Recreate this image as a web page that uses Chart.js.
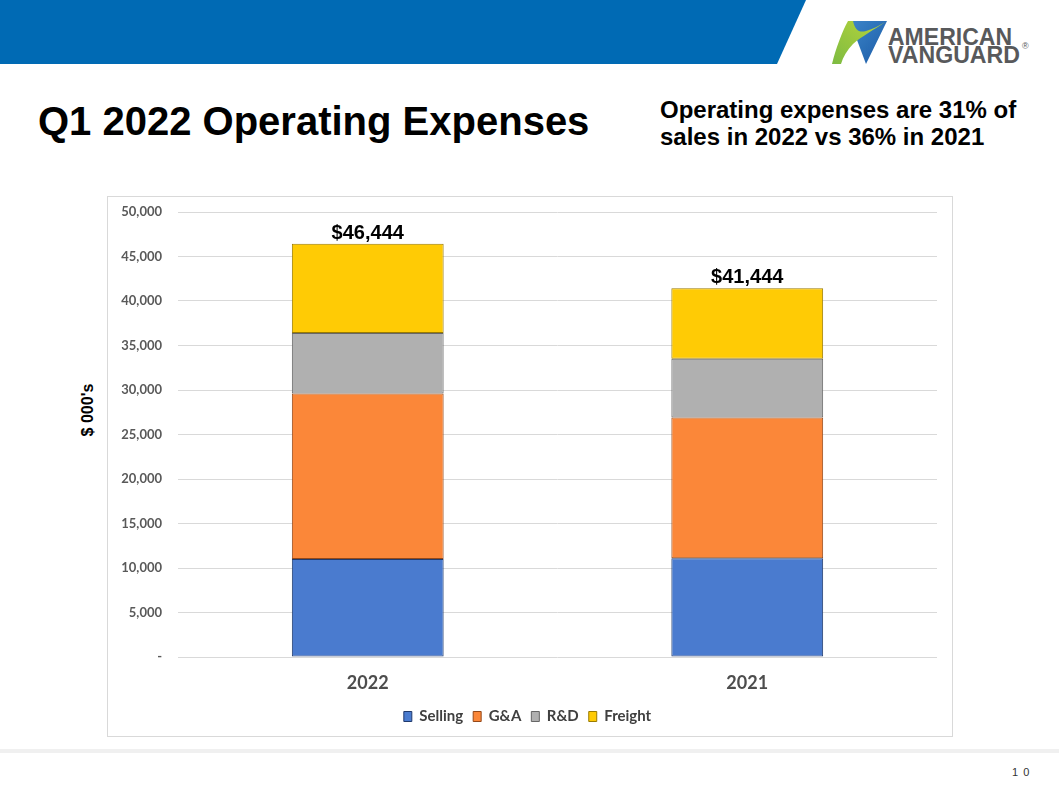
<!DOCTYPE html>
<html>
<head>
<meta charset="utf-8">
<title>Q1 2022 Operating Expenses</title>
<script src="https://cdn.jsdelivr.net/npm/chart.js@4.4.0/dist/chart.umd.min.js"></script>
<style>
  html, body { margin: 0; padding: 0; background: #fff; }
  body { width: 1059px; height: 798px; position: relative; overflow: hidden; font-family: 'Liberation Sans', Arial, sans-serif; }
  #header { position: absolute; left: 0; top: 0; }
  #title { position: absolute; left: 38px; top: 101px; font-size: 40px; line-height: 40px; font-weight: bold; color: #000; white-space: nowrap; }
  #note { position: absolute; left: 660px; top: 96px; font-size: 24px; line-height: 27px; font-weight: bold; color: #000; white-space: nowrap; }
  #ytitle { position: absolute; left: 88px; top: 410px; transform: translate(-50%, -50%) rotate(-90deg); font-size: 16px; font-weight: bold; color: #000; white-space: nowrap; }
  #chartbox { position: absolute; left: 107px; top: 196px; width: 846px; height: 541px; border: 1px solid #d9d9d9; box-sizing: border-box; }
  #footer { position: absolute; left: 0; top: 749px; width: 1059px; height: 4px; background: #f0f0f0; }
  #pagenum { position: absolute; left: 1012px; top: 766px; font-size: 11px; color: #333; letter-spacing: 1px; }
</style>
</head>
<body>
<svg id="header" width="1059" height="70" xmlns="http://www.w3.org/2000/svg">
  <defs>
    <linearGradient id="blueGrad" x1="0" y1="0" x2="1" y2="1">
      <stop offset="0" stop-color="#3d86c9"/>
      <stop offset="1" stop-color="#1a5aa6"/>
    </linearGradient>
    <linearGradient id="greenGrad" x1="0" y1="1" x2="1" y2="0">
      <stop offset="0" stop-color="#7dbb42"/>
      <stop offset="1" stop-color="#b9d53a"/>
    </linearGradient>
  </defs>
  <!-- blue band with slanted end -->
  <polygon points="0,0 806,0 777,64 0,64" fill="#006ab4"/>
  <!-- logo mark -->
  <path d="M849,21 L887,21 L866,64 L857,40 Z" fill="url(#blueGrad)"/>
  <path d="M832,64 C836,48 842,32 848,21 L853,21 C855,30 859,33 866,31 C873,29 879,26 885,22 C874,30 862,36 853,44 C847,50 843,57 841,64 Z" fill="url(#greenGrad)"/>
  <text x="888" y="45" font-family="Liberation Sans, Arial, sans-serif" font-weight="bold" font-size="23.5" fill="#58595b" textLength="124" lengthAdjust="spacingAndGlyphs">AMERICAN</text>
  <text x="888" y="63" font-family="Liberation Sans, Arial, sans-serif" font-weight="bold" font-size="23.5" fill="#58595b" textLength="132" lengthAdjust="spacingAndGlyphs">VANGUARD</text>
  <text x="1022" y="49" font-family="Liberation Sans, Arial, sans-serif" font-size="9" fill="#58595b">®</text>
</svg>

<div id="title">Q1 2022 Operating Expenses</div>
<div id="note">Operating expenses are 31% of<br>sales in 2022 vs 36% in 2021</div>
<div id="ytitle">$ 000's</div>

<div id="chartbox"><canvas id="expenseChart"></canvas></div>

<div id="footer"></div>
<div id="pagenum">1 0</div>

<script>
'use strict';
// chart data, in $ 000's
var categories = ['2022', '2021'];
var sellingValues = [11000, 11100];
var gaValues = [18600, 15800];
var rdValues = [6800, 6600];
var freightValues = [10044, 7944];
var axisMax = 50000;
var axisStep = 5000;

var seriesNames = ['Selling', 'G&A', 'R&D', 'Freight'];
var seriesFills = ['#4a7bcf', '#fb8739', '#b0b0b0', '#ffcb05'];
var seriesEdges = ['#203a6c', '#94491a', '#666666', '#9a7b00'];

// adds up the stacked segments for each year
function totalFor(index) {
  return sellingValues[index] + gaValues[index] + rdValues[index] + freightValues[index];
}

// writes the dollar total on top of each stack
var totalsPlugin = {
  id: 'totals',
  afterDatasetsDraw: function(chart) {
    var ctx = chart.ctx;
    var topMeta = chart.getDatasetMeta(chart.data.datasets.length - 1);
    ctx.save();
    ctx.font = 'bold 20px "Liberation Sans", Arial, sans-serif';
    ctx.fillStyle = '#000';
    ctx.textAlign = 'center';
    ctx.textBaseline = 'alphabetic';
    for (var i = 0; i < categories.length; i++) {
      var bar = topMeta.data[i];
      ctx.fillText('$' + totalFor(i).toLocaleString('en-US'), bar.x, bar.y - 5);
    }
    ctx.restore();
  }
};

function makeDataset(i, values) {
  return {
    label: seriesNames[i],
    data: values,
    backgroundColor: seriesFills[i],
    borderColor: seriesEdges[i],
    borderWidth: 1,
    borderSkipped: false,
    barPercentage: 0.4,
    categoryPercentage: 1
  };
}

Chart.defaults.font.family = 'Lato, "Open Sans", sans-serif';

var ctx = document.getElementById('expenseChart').getContext('2d');
var chart = new Chart(ctx, {
  type: 'bar',
  data: {
    labels: categories,
    datasets: [
      makeDataset(0, sellingValues),
      makeDataset(1, gaValues),
      makeDataset(2, rdValues),
      makeDataset(3, freightValues)
    ]
  },
  options: {
    responsive: true,
    maintainAspectRatio: false,
    animation: false,
    layout: { padding: { top: 15, right: 15, bottom: 2, left: 10 } },
    plugins: {
      legend: {
        position: 'bottom',
        labels: {
          boxWidth: 8,
          boxHeight: 10,
          padding: 10,
          color: '#404040',
          font: { size: 15, weight: 'bold' }
        }
      },
      tooltip: { enabled: false }
    },
    scales: {
      x: {
        stacked: true,
        grid: { display: false, drawTicks: false },
        border: { display: false },
        ticks: { padding: 15, color: '#4d4d4d', font: { size: 18, weight: 'bold' } },
        afterFit: function(scale) { scale.height = 42; }
      },
      y: {
        stacked: true,
        min: 0,
        max: axisMax,
        grid: { color: '#d9d9d9', drawTicks: false },
        border: { display: false },
        ticks: {
          stepSize: axisStep,
          padding: 16,
          color: '#595959',
          font: { size: 13, weight: 'bold' },
          callback: function(value) {
            return value === 0 ? '-' : value.toLocaleString('en-US');
          }
        },
        afterFit: function(scale) {
          scale.width = 60;
          scale.paddingTop = 0;
          scale.paddingBottom = 0;
        }
      }
    }
  },
  plugins: [totalsPlugin]
});
</script>
</body>
</html>
